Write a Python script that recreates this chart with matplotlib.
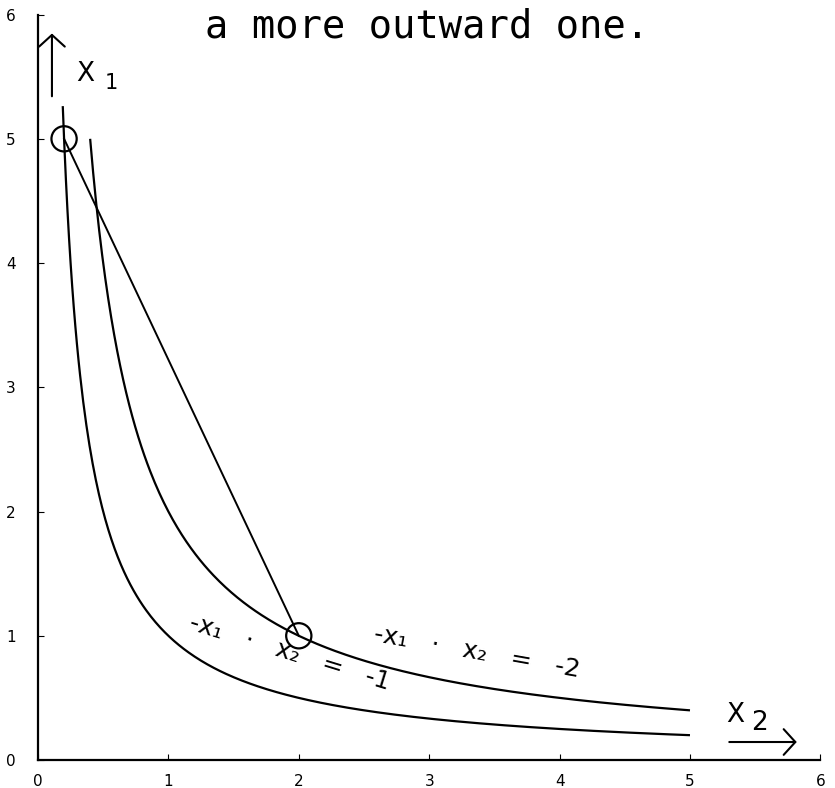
import numpy as np
import matplotlib
matplotlib.use("Agg")
import matplotlib.pyplot as plt

# level sets  x1 * x2 = c  and the range of x2 over which each is drawn
levels = [1, 2]
x2_start = [0.19, 0.4]
x2_end = [5.0, 5.0]

# the two marked points and the chord joining them
pts_x2 = [0.2, 2.0]
pts_x1 = [5.0, 1.0]

ticks = [0, 1, 2, 3, 4, 5, 6]
tick_labels = ["0", "1", "2", "3", "4", "5", "6"]

fig = plt.figure(figsize=(8.35, 7.88), dpi=100)
ax = fig.add_axes([0.0455, 0.0355, 0.937, 0.946])
ax.set_xlim(0, 6)
ax.set_ylim(0, 6)

for c, a, b in zip(levels, x2_start, x2_end):
    x2 = np.linspace(a, b, 400)
    ax.plot(x2, c / x2, color="black", lw=1.6, solid_capstyle="butt")

ax.plot(pts_x2, pts_x1, color="black", lw=1.4)
ax.scatter(pts_x2, pts_x1, s=330, facecolors="none", edgecolors="black",
           linewidths=1.6, zorder=3)

# axis arrows and names
head = "->,head_width=0.33,head_length=0.3"
ax.annotate("", xy=(0.107, 5.87), xytext=(0.107, 5.32),
            arrowprops=dict(arrowstyle=head, lw=1.5, color="black",
                            mutation_scale=28))
ax.text(0.36, 5.52, "X", fontsize=19, ha="center", va="center")
ax.text(0.56, 5.45, "1", fontsize=15, ha="center", va="center")

ax.annotate("", xy=(5.84, 0.145), xytext=(5.28, 0.145),
            arrowprops=dict(arrowstyle=head, lw=1.5, color="black",
                            mutation_scale=28))
ax.text(5.35, 0.36, "X", fontsize=19, ha="center", va="center")
ax.text(5.53, 0.30, "2", fontsize=19, ha="center", va="center")

ax.text(1.93, 0.86, "-x\u2081   \u00b7   x\u2082   =   -1", fontsize=18,
        rotation=-17, ha="center", va="center")
ax.text(3.37, 0.87, "-x\u2081   \u00b7   x\u2082   =   -2", fontsize=18,
        rotation=-10, ha="center", va="center")

ax.text(0.512, 0.966, "a more outward one.", transform=fig.transFigure,
        fontsize=28, family="DejaVu Sans Mono", ha="center", va="center")

for s in ["top", "right"]:
    ax.spines[s].set_visible(False)
ax.spines["left"].set_linewidth(1.6)
ax.spines["bottom"].set_linewidth(1.6)
ax.set_xticks(ticks)
ax.set_yticks(ticks)
ax.set_xticklabels(tick_labels, fontsize=11)
ax.set_yticklabels(tick_labels, fontsize=11)
ax.tick_params(direction="in", length=4, width=0.8, pad=10)
ax.tick_params(axis="y", pad=16)

fig.savefig("out.png", dpi=100)
